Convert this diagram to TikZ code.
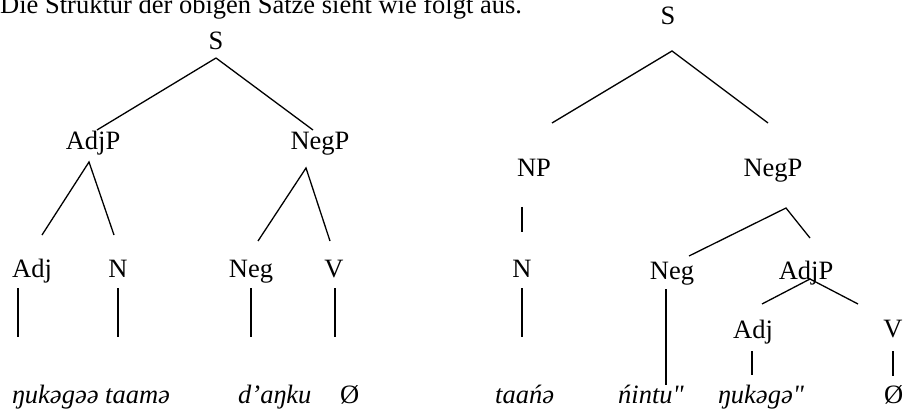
\documentclass[tikz,border=0pt]{standalone}
\usepackage{fontspec}
\setmainfont{Liberation Serif}[Ligatures=TeXOff]

\newcommand\treefont{\fontsize{26.5}{32}\selectfont}

\tikzset{
  lbl/.style={inner sep=0pt, anchor=base, font=\treefont},
  leaf/.style={inner sep=0pt, anchor=base west, font=\treefont\itshape},
  branch/.style={line width=1.3pt}
}

\begin{document}
\begin{tikzpicture}[x=1pt, y=-1pt]
    \useasboundingbox (0,0) rectangle (907,414);
    \node[inner sep=0pt, anchor=base west, font=\treefont] (intro) at (0,13.5) {Die Struktur der obigen Sätze sieht wie folgt aus.};

    % first tree
    \node[lbl] (S1) at (216,50) {S};
    \node[lbl] (AdjP1) at (93,150) {AdjP};
    \node[lbl] (NegP1) at (320,150) {NegP};
    \node[lbl] (Adj1) at (32,277) {Adj};
    \node[lbl] (N1) at (118,277) {N};
    \node[lbl] (Neg1) at (251,277) {Neg};
    \node[lbl] (V1) at (334,277) {V};
    \node[leaf] (w1) at (12,403) {ŋukəgəə taamə};
    \node[leaf] (w2) at (238,403) {d’aŋku};
    \node[leaf] (w3) at (340,403) {\upshape Ø};

    \draw[branch] ([shift={(0,8)}]S1.base) -- ([shift={(4,-20)}]AdjP1.base);
    \draw[branch] ([shift={(0,8)}]S1.base) -- ([shift={(-7,-20)}]NegP1.base);
    \draw[branch] ([shift={(10,-42)}]Adj1.base) -- ([shift={(-4,12)}]AdjP1.base) -- ([shift={(-4,-42)}]N1.base);
    \draw[branch] ([shift={(7,-36)}]Neg1.base) -- ([shift={(-14,18)}]NegP1.base) -- ([shift={(-4,-36)}]V1.base);
    \draw[branch] ([shift={(-14,11)}]Adj1.base) -- ([shift={(6,-66)}]w1.base west);
    \draw[branch] ([shift={(0,11)}]N1.base) -- ([shift={(106,-66)}]w1.base west);
    \draw[branch] ([shift={(0,11)}]Neg1.base) -- ([shift={(13,-66)}]w2.base west);
    \draw[branch] ([shift={(1,11)}]V1.base) -- ([shift={(-5,-66)}]w3.base west);

    % second tree
    \node[lbl] (S2) at (668,25) {S};
    \node[lbl] (NP2) at (534,177) {NP};
    \node[lbl] (NegP2) at (773,177) {NegP};
    \node[lbl] (N2) at (522,277) {N};
    \node[lbl] (Neg2) at (672,279) {Neg};
    \node[lbl] (AdjP2) at (806,279) {AdjP};
    \node[lbl] (Adj2) at (753,338) {Adj};
    \node[lbl] (V2) at (893,337) {V};
    \node[leaf] (w4) at (495,403) {taańə};
    \node[leaf] (w5) at (618,403) {ńintu"};
    \node[leaf] (w6) at (718,403) {ŋukəgə"};
    \node[leaf] (w7) at (884,403) {\upshape Ø};

    \draw[branch] ([shift={(18,-54)}]NP2.base) -- ([shift={(4,26)}]S2.base) -- ([shift={(-5,-54)}]NegP2.base);
    \draw[branch] ([shift={(-12,30)}]NP2.base) -- ([shift={(0,-45)}]N2.base);
    \draw[branch] ([shift={(0,11)}]N2.base) -- ([shift={(27,-66)}]w4.base west);
    \draw[branch] ([shift={(17,-23)}]Neg2.base) -- ([shift={(13,31)}]NegP2.base) -- ([shift={(4,-41)}]AdjP2.base);
    \draw[branch] ([shift={(-6,10)}]Neg2.base) -- ([shift={(48,-18)}]w5.base west);
    \draw[branch] ([shift={(9,-34)}]Adj2.base) -- ([shift={(4,0)}]AdjP2.base) -- ([shift={(-35,-33)}]V2.base);
    \draw[branch] ([shift={(-1,13)}]Adj2.base) -- ([shift={(34,-28)}]w6.base west);
    \draw[branch] ([shift={(0,14)}]V2.base) -- ([shift={(9,-27)}]w7.base west);
\end{tikzpicture}
\end{document}
